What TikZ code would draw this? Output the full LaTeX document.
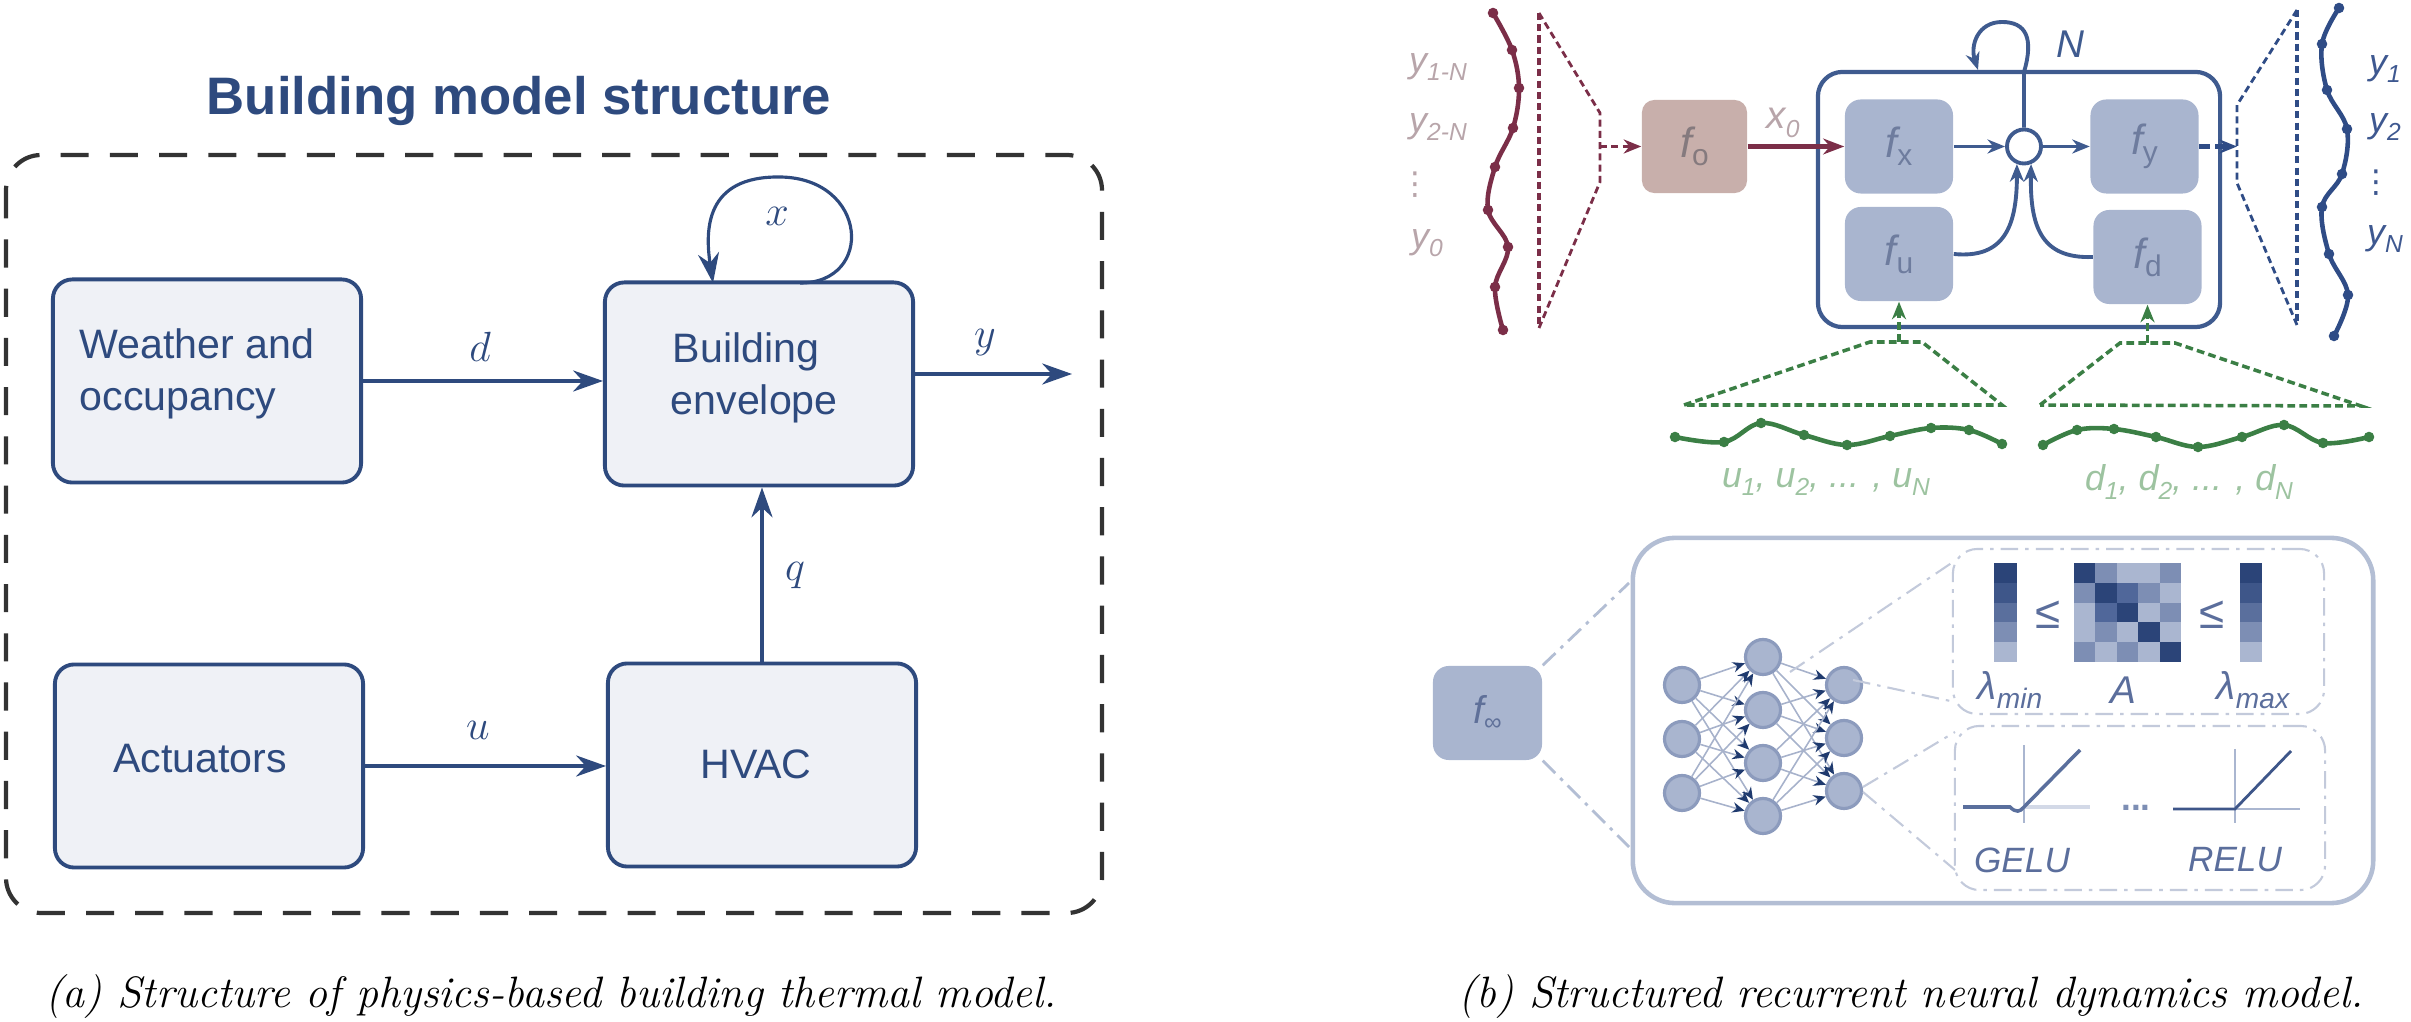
\documentclass[tikz,border=0pt]{standalone}
\usepackage{fontspec}
\newfontfamily\sansf{Liberation Sans}
\newfontfamily\dejaf{DejaVu Sans}
\usetikzlibrary{arrows.meta,calc}
\definecolor{lblue}{HTML}{2E4A7E}
\definecolor{lfill}{HTML}{EFF1F6}
\definecolor{dashgrey}{HTML}{333333}
\definecolor{rblue}{HTML}{3F5B8F}
\definecolor{ifill}{HTML}{A9B5CF}
\definecolor{itext}{HTML}{6E7C9E}
\definecolor{rose}{HTML}{C8AFAB}
\definecolor{rosetext}{HTML}{857A7E}
\definecolor{maroon}{HTML}{7B2E48}
\definecolor{ylab}{HTML}{B8A5AA}
\definecolor{curveblue}{HTML}{2F4C86}
\definecolor{bluelab}{HTML}{3E5890}
\definecolor{gr}{HTML}{3B7F45}
\definecolor{grlab}{HTML}{9DC3A0}
\definecolor{pale}{HTML}{B3BED4}
\definecolor{paler}{HTML}{C3CADB}
\definecolor{nnborder}{HTML}{8C9BBD}
\definecolor{nnedge}{HTML}{A7B2CB}
\definecolor{navy}{HTML}{1F3A6E}
\definecolor{cD}{HTML}{2B4478}
\definecolor{cMD}{HTML}{50679A}
\definecolor{cM}{HTML}{7D8EB4}
\definecolor{cL}{HTML}{AAB6D0}
\definecolor{cTwo}{HTML}{3E5689}
\definecolor{cThree}{HTML}{5A6F9D}
\definecolor{lamlab}{HTML}{5B6E9C}
\definecolor{finftext}{HTML}{5F7099}
\newcommand\mysub[2][7]{\raisebox{-0.45ex}{\fontsize{#1}{#1}\selectfont #2}}
\begin{document}
\begin{tikzpicture}[x=0.01cm,y=-0.01cm,
  lbox/.style={draw=lblue, fill=lfill, line width=1.1pt, rounded corners=5.5pt, minimum width=3.08cm, minimum height=2.03cm, inner sep=0pt},
  btext/.style={font=\sansf\fontsize{11.7}{14.8}\selectfont, text=lblue, inner sep=0pt},
  larr/.style={draw=lblue, line width=0.9pt, -{Stealth[length=8.5pt,width=6pt]}},
  mlab/.style={font=\fontsize{12.5}{14}\selectfont, text=lblue, inner sep=0pt},
  capt/.style={font=\fontsize{12.5}{14}\selectfont\itshape, inner sep=0pt, anchor=base},
  ibox/.style={fill=ifill, rounded corners=4.5pt, minimum width=1.08cm, minimum height=0.94cm, inner sep=0pt, text=itext, font=\fontsize{12}{14}\selectfont},
  rarr/.style={draw=rblue, line width=1.1pt, -{Stealth[length=5pt,width=4pt]}},
  rdash/.style={draw=maroon, line width=1pt, dash pattern=on 2pt off 1.2pt},
  bdash/.style={draw=curveblue, line width=1pt, dash pattern=on 2pt off 1.2pt},
  gdash/.style={draw=gr, line width=1pt, dash pattern=on 2.2pt off 1.2pt},
  slab/.style={font=\sansf\itshape\fontsize{10.2}{12}\selectfont, inner sep=0pt},
  vdot/.style={font=\dejaf\fontsize{9}{10}\selectfont, inner sep=0pt},
  nn/.style={circle, fill=ifill, draw=nnborder, line width=0.9pt, minimum size=0.35cm, inner sep=0pt},
  nnarr/.style={draw=nnedge, line width=0.45pt, -{Stealth[length=3.5pt,width=3pt,color=navy]}},
  dashdot/.style={dash pattern=on 5pt off 2pt on 1pt off 2pt},
  sbox/.style={draw=paler, line width=0.6pt, dashdot, rounded corners=7pt, inner sep=0pt}
]
\useasboundingbox (0,0) rectangle (2411,1022);

% ================= (a) left panel =================
\node[font=\sansf\bfseries\fontsize{15}{18}\selectfont, text=lblue, anchor=base, inner sep=0pt] (title) at (519,115) {Building model structure};
\draw[draw=dashgrey, line width=1.2pt, dash pattern=on 8pt off 6pt, rounded corners=10pt] (6,155) rectangle (1102,913);

\node[lbox] (wo) at (207,381) {};
\node[lbox] (env) at (759,384) {};
\node[lbox] (act) at (209,766) {};
\node[lbox] (hvac) at (762,765) {};

\node[btext, anchor=base west] (wo1) at (79,359) {Weather and};
\node[btext, anchor=base west] (wo2) at (79,411) {occupancy};
\node[btext, anchor=base west] (env1) at (672,363) {Building};
\node[btext, anchor=base west] (env2) at (670,415) {envelope};
\node[btext, anchor=base] (act1) at (200,773) {Actuators};
\node[btext, anchor=base] (hv1) at (756,779) {HVAC};

\draw[larr] (wo.east) -- (wo.east -| env.west);
\draw[larr] (act.east) -- (act.east -| hvac.west);
\draw[larr] (hvac.north) -- (hvac.north |- env.south);
\coordinate (yend) at (1072,374);
\draw[larr] (env.east |- yend) -- (yend);
\coordinate (xs) at (800,283);
\coordinate (xe) at (713,283);
\draw[larr] (xs) .. controls (875,283) and (868,178) .. (780,177) .. controls (705,176) and (705,230) .. (xe);

\node[mlab] (ld) at (480,347) {$d$};
\node[mlab] (lu) at (478,730) {$u$};
\node[mlab] (lx) at (777,216) {$x$};
\node[mlab] (ly) at (985,343) {$y$};
\node[mlab] (lq) at (795,576) {$q$};

\node[capt] (capa) at (551,1008) {(a) Structure of physics-based building thermal model.};

% ================= (b) right panel: top =================
\draw[maroon, line width=1.3pt] plot[smooth, tension=0.6] coordinates {(1493,13) (1512,50) (1519,88) (1513,128) (1495,167) (1488,210) (1508,247) (1495,287) (1503,330)};
\foreach \p in {(1493,13),(1512,50),(1519,88),(1513,128),(1495,167),(1488,210),(1508,247),(1495,287),(1503,330)}
  \fill[maroon] \p circle[radius=1.5pt];
\node[slab, text=ylab] (ya) at (1438,67) {y\mysub{1-N}};
\node[slab, text=ylab] (yb) at (1438,127) {y\mysub{2-N}};
\node[vdot, text=ylab] (yc) at (1415,185) {⋮};
\node[slab, text=ylab] (yd) at (1427,243) {y\mysub{0}};
\draw[rdash] (1539,13) -- (1539,328);
\draw[rdash, line width=0.8pt] (1539,13) -- (1600,113) -- (1600,182) -- (1539,328);

\node[fill=rose, rounded corners=3.5pt, minimum width=1.05cm, minimum height=0.93cm, inner sep=0pt, text=rosetext, font=\fontsize{12}{14}\selectfont] (f0) at (1694.5,146.5) {{\sansf\itshape f}\mysub[8.5]{\sansf o}};
\coordinate (rt) at (1600,146.5);
\draw[rdash, -{Stealth[length=5pt,width=4pt]}] (rt) -- (f0.west);

\node[draw=rblue, line width=1.2pt, rounded corners=7pt, minimum width=4.02cm, minimum height=2.55cm, inner sep=0pt] (bb) at (2019,199.5) {};
\node[ibox] (fx) at (1899,146.5) {{\sansf\itshape f}\mysub[8.5]{\sansf x}};
\node[ibox] (fu) at (1899,254) {{\sansf\itshape f}\mysub[8.5]{\sansf u}};
\node[ibox] (fy) at (2144.5,146.5) {{\sansf\itshape f}\mysub[8.5]{\sansf y}};
\node[ibox] (fd) at (2147.5,257) {{\sansf\itshape f}\mysub[8.5]{\sansf d}};
\node[circle, draw=rblue, line width=1.1pt, fill=white, minimum size=0.34cm, inner sep=0pt] (cc) at (2024,146.5) {};

\draw[maroon, line width=1.2pt, -{Stealth[length=6pt,width=4.5pt]}] (f0.east) -- (fx.west);
\node[slab, text=ylab, font=\sansf\itshape\fontsize{11}{12}\selectfont] (x0) at (1783,123) {x\mysub{0}};

\draw[rarr] (fx.east) -- (cc.west);
\draw[rarr] (cc.east) -- (fy.west);
\draw[rarr] (fu.east) .. controls (2005,259) and (2017,225) .. (cc.-112);
\draw[rarr] (fd.west) .. controls (2040,259) and (2030,225) .. (cc.-68);
\draw[rarr] (cc.north) -- (2024,72) .. controls (2034,38) and (2026,22) .. (2002,22) .. controls (1978,22) and (1970,45) .. (1978,70);
\node[slab, text=rblue, font=\sansf\itshape\fontsize{11}{12}\selectfont] (nlab) at (2070,44) {N};

\coordinate (bt) at (2237,146.5);
\draw[bdash, line width=1.2pt, dash pattern=on 3pt off 1.5pt, -{Stealth[length=5pt,width=4pt]}] (fy.east) -- (bt);
\draw[bdash, line width=0.8pt] (2297,10) -- (2237,105) -- (2237,183) -- (2297,325);
\draw[bdash] (2297,10) -- (2297,325);
\draw[curveblue, line width=1.3pt] plot[smooth, tension=0.6] coordinates {(2339,8) (2322,44) (2327,90) (2347,129) (2342,174) (2322,207) (2329,254) (2348,295) (2334,336)};
\foreach \p in {(2339,8),(2322,44),(2327,90),(2347,129),(2342,174),(2322,207),(2329,254),(2348,295),(2334,336)}
  \fill[curveblue] \p circle[radius=1.5pt];
\node[slab, text=bluelab] (y1) at (2385,69) {y\mysub{1}};
\node[slab, text=bluelab] (y2) at (2385,127) {y\mysub{2}};
\node[vdot, text=bluelab] (y3) at (2376,183) {⋮};
\node[slab, text=bluelab] (yN) at (2385,239) {y\mysub{N}};

\draw[gdash] (1684,405) -- (1870,342) -- (1922,342) -- (2002,405) -- cycle;
\coordinate (ut) at (1899,342);
\draw[gdash, -{Stealth[length=5pt,width=4pt]}] (ut) -- (fu.south);
\draw[gdash] (2040,405) -- (2120,343) -- (2175,343) -- (2361,406) -- cycle;
\coordinate (dt) at (2147.5,343);
\draw[gdash, -{Stealth[length=5pt,width=4pt]}] (dt) -- (fd.south);
\draw[gr, line width=1.3pt] plot[smooth, tension=0.6] coordinates {(1675,437) (1724,442) (1761,423) (1804,435) (1847,445) (1890,436) (1931,428) (1969,430) (2002,444)};
\foreach \p in {(1675,437),(1724,442),(1761,423),(1804,435),(1847,445),(1890,436),(1931,428),(1969,430),(2002,444)}
  \fill[gr] \p circle[radius=1.5pt];
\draw[gr, line width=1.3pt] plot[smooth, tension=0.6] coordinates {(2043,445) (2077,430) (2114,429) (2156,437) (2198,447) (2242,437) (2284,425) (2323,443) (2369,437)};
\foreach \p in {(2043,445),(2077,430),(2114,429),(2156,437),(2198,447),(2242,437),(2284,425),(2323,443),(2369,437)}
  \fill[gr] \p circle[radius=1.5pt];
\node[slab, text=grlab] (ulab) at (1826,482) {u\mysub{1}, u\mysub{2}, ... , u\mysub{N}};
\node[slab, text=grlab] (dlab) at (2189,482) {d\mysub{1}, d\mysub{2}, ... , d\mysub{N}};

% ================= (b) right panel: bottom =================
\node[fill=ifill, rounded corners=4.5pt, minimum width=1.09cm, minimum height=0.94cm, inner sep=0pt, text=finftext, font=\fontsize{11}{12}\selectfont] (finf) at (1487.5,713) {{\sansf\itshape f}\mysub[7]{\sansf ∞}};
\node[draw=pale, line width=1.3pt, rounded corners=12pt, minimum width=7.4cm, minimum height=3.65cm, inner sep=0pt] (bb2) at (2003,720.5) {};
\coordinate (g1) at (1629,583);
\coordinate (g2) at (1629,847);
\draw[draw=pale, line width=0.8pt, dashdot] (finf.north east) -- (g1);
\draw[draw=pale, line width=0.8pt, dashdot] (finf.south east) -- (g2);

\node[nn] (n11) at (1682,685) {};
\node[nn] (n12) at (1682,739) {};
\node[nn] (n13) at (1682,793) {};
\node[nn] (n21) at (1763,657) {};
\node[nn] (n22) at (1763,710) {};
\node[nn] (n23) at (1763,763) {};
\node[nn] (n24) at (1763,816) {};
\node[nn] (n31) at (1844,685) {};
\node[nn] (n32) at (1844,738) {};
\node[nn] (n33) at (1844,791) {};
\foreach \i in {1,2,3} \foreach \j in {1,2,3,4} \draw[nnarr] (n1\i) -- (n2\j);
\foreach \i in {1,2,3,4} \foreach \j in {1,2,3} \draw[nnarr] (n2\i) -- (n3\j);

\node[sbox, minimum width=3.71cm, minimum height=1.65cm] (sb1) at (2138.5,631.5) {};
\node[sbox, minimum width=3.70cm, minimum height=1.64cm] (sb2) at (2140,808) {};
\coordinate (h1a) at (1790,672);
\coordinate (h1b) at (1953,562);
\coordinate (h2a) at (1853,680);
\coordinate (h2b) at (1955,702);
\coordinate (h3a) at (1863,787);
\coordinate (h3b) at (1955,732);
\coordinate (h4a) at (1863,792);
\coordinate (h4b) at (1955,870);
\foreach \a/\b in {h1a/h1b,h2a/h2b,h3a/h3b,h4a/h4b}
  \draw[draw=paler, line width=0.6pt, dashdot] (\a) -- (\b);

\foreach \c [count=\k from 0] in {cD,cTwo,cThree,cM,cL} {
  \fill[\c] (1994,{563+\k*19.8}) rectangle ++(23,20.1);
  \fill[\c] (2240,{563+\k*19.8}) rectangle ++(22,20.1);
}
\foreach \r/\cols in {0/{cD,cM,cL,cL,cM},1/{cM,cD,cMD,cM,cL},2/{cL,cMD,cD,cL,cM},3/{cL,cM,cL,cD,cL},4/{cM,cL,cM,cL,cD}} {
  \foreach \c [count=\k from 0] in \cols {
    \fill[\c] ({2074+\k*21.4},{563+\r*19.8}) rectangle ++(21.7,20.1);
  }
}
\node[font=\sansf\fontsize{13}{14}\selectfont, text=lamlab, inner sep=0pt] (le1) at (2048,615) {≤};
\node[font=\sansf\fontsize{13}{14}\selectfont, text=lamlab, inner sep=0pt] (le2) at (2212,615) {≤};
\node[slab, text=lamlab, font=\sansf\itshape\fontsize{11}{12}\selectfont] (lmin) at (2010,690) {λ\mysub[8]{min}};
\node[slab, text=lamlab, font=\sansf\itshape\fontsize{11}{12}\selectfont] (lA) at (2123,690) {A};
\node[slab, text=lamlab, font=\sansf\itshape\fontsize{11}{12}\selectfont] (lmax) at (2253,690) {λ\mysub[8]{max}};

\draw[draw=cL, line width=0.5pt] (2024,745) -- (2024,823);
\draw[draw=lfill!60!cL, line width=1.2pt] (2024,807) -- (2090,807);
\draw[draw=cThree, line width=1pt] (1963,807) -- (2010,807) .. controls (2016,813) and (2020,812) .. (2024,807) -- (2080,750);
\draw[draw=cL, line width=0.5pt] (2235,749) -- (2235,823);
\draw[draw=cL, line width=0.6pt] (2235,809) -- (2300,809);
\draw[draw=cTwo, line width=0.8pt] (2173,809) -- (2235,809) -- (2291,751);
\node[font=\sansf\bfseries\fontsize{10}{11}\selectfont, text=cM, inner sep=0pt, anchor=base] (dots) at (2136,811) {...};
\node[slab, text=lamlab, font=\sansf\itshape\fontsize{10}{12}\selectfont] (gelu) at (2022,860) {GELU};
\node[slab, text=lamlab, font=\sansf\itshape\fontsize{10}{12}\selectfont] (relu) at (2235,860) {RELU};

\node[capt] (capb) at (1911,1008) {(b) Structured recurrent neural dynamics model.};
\end{tikzpicture}
\end{document}
